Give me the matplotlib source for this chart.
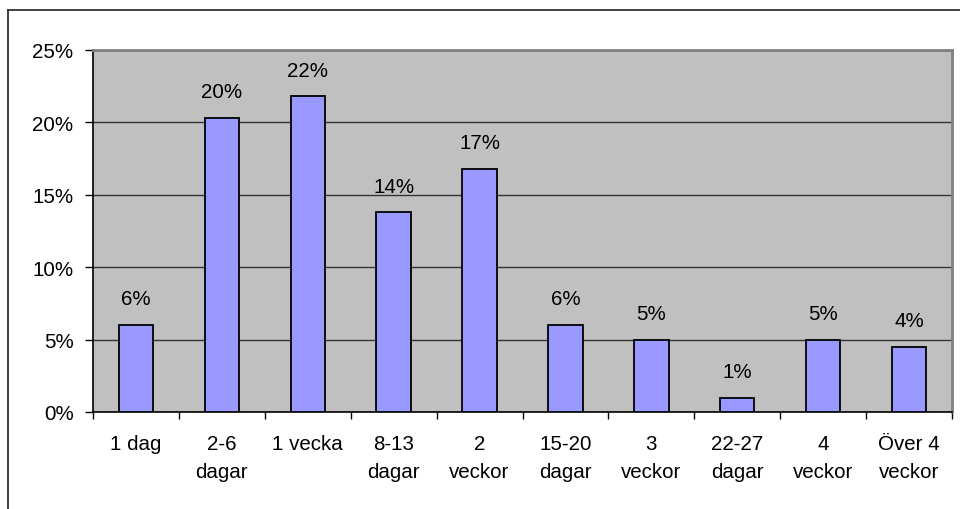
import matplotlib.pyplot as plt
from matplotlib.lines import Line2D
from matplotlib.ticker import MultipleLocator, FuncFormatter

plt.rcParams['font.family'] = ['Liberation Sans', 'DejaVu Sans']

# data
categories = ['1 dag', '2-6\ndagar', '1 vecka', '8-13\ndagar', '2\nveckor',
              '15-20\ndagar', '3\nveckor', '22-27\ndagar', '4\nveckor', 'Över 4\nveckor']
values = [6.0, 20.3, 21.8, 13.8, 16.8, 6.0, 5.0, 1.0, 5.0, 4.5]
labels = ['6%', '20%', '22%', '14%', '17%', '6%', '5%', '1%', '5%', '4%']

W, H = 960, 510
fs = 14.8
fig = plt.figure(figsize=(9.6, 5.1), dpi=100)
ax = fig.add_axes([93 / W, 1 - 413 / H, (952 - 93) / W, (413 - 51) / H])
ax.set_facecolor('#C0C0C0')

x = list(range(len(categories)))
ax.bar(x, values, width=0.4, color='#9999FF', edgecolor='black', linewidth=1.3, zorder=3)

for xi, v, lab in zip(x, values, labels):
    ax.annotate(lab, (xi, v), xytext=(0, 12), textcoords='offset points',
                ha='center', va='bottom', fontsize=fs)

ax.set_xlim(-0.5, len(categories) - 0.5)
ax.set_ylim(0, 25)
ax.yaxis.set_major_locator(MultipleLocator(5))
ax.yaxis.set_major_formatter(FuncFormatter(lambda v, p: f'{v:.0f}%'))
ax.grid(axis='y', color='#333333', linewidth=1.0, zorder=1)

# x ticks at category boundaries, labels centred under bars
ax.set_xticks([i - 0.5 for i in range(len(categories) + 1)])
ax.set_xticklabels([])
ax.set_xticks(x, minor=True)
ax.set_xticklabels(categories, minor=True, fontsize=fs, linespacing=1.6, va='top')
ax.tick_params(axis='x', which='major', direction='out', length=5, width=1, color='black')
ax.tick_params(axis='x', which='minor', length=0, pad=16)
ax.tick_params(axis='y', direction='out', length=6, width=1, pad=8, labelsize=fs)

for side in ['top', 'right']:
    ax.spines[side].set_color('#808080')
    ax.spines[side].set_linewidth(2)
for side in ['left', 'bottom']:
    ax.spines[side].set_color('black')
    ax.spines[side].set_linewidth(1.2)

# outer chart border (top and left visible)
fig.add_artist(Line2D([8 / W, 1], [1 - 10.5 / H, 1 - 10.5 / H], color='#333333', linewidth=1.3))
fig.add_artist(Line2D([8 / W, 8 / W], [0, 1 - 10.5 / H], color='#333333', linewidth=1.3))

fig.savefig('out.png', dpi=100)
